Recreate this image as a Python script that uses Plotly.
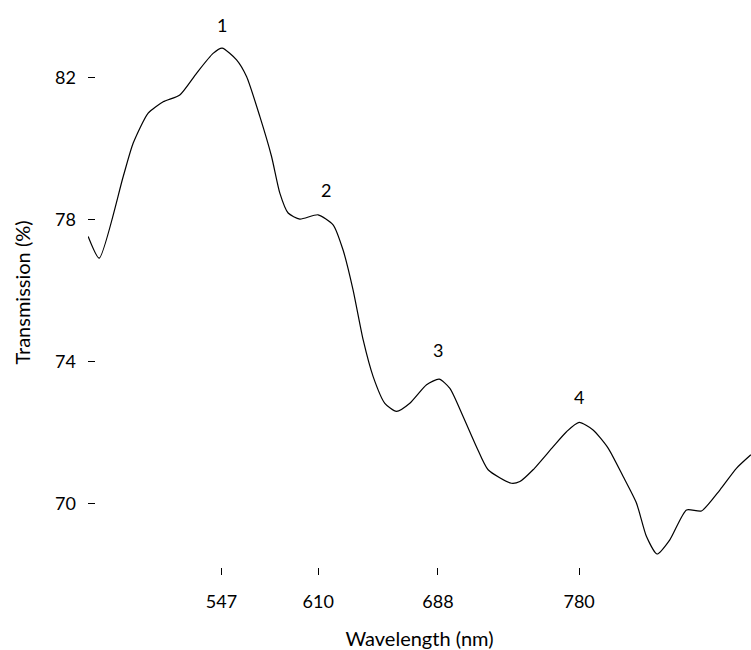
import plotly.graph_objects as go

# Data
wavelength = [460.1, 467.3, 482.9, 489.4, 499.2, 509.0, 519.8, 530.7, 541.5, 547.4,
              556.8, 563.3, 572.0, 579.6, 585.0, 590.4, 598.0, 609.9, 619.7, 626.2,
              632.7, 639.3, 645.8, 653.4, 661.0, 669.7, 680.6, 688.8, 695.8, 704.4,
              713.1, 720.7, 735.9, 741.4, 750.0, 763.1, 771.8, 780.0, 789.1, 798.9,
              808.7, 817.4, 823.9, 830.8, 839.1, 850.0, 859.7, 871.7, 882.5, 891.9]
transmission = [77.52, 76.91, 79.20, 80.14, 80.99, 81.31, 81.50, 82.11, 82.67, 82.82,
                82.49, 82.02, 80.89, 79.77, 78.74, 78.18, 78.01, 78.13, 77.85, 77.14,
                76.02, 74.61, 73.58, 72.83, 72.60, 72.83, 73.35, 73.51, 73.25, 72.46,
                71.61, 70.96, 70.58, 70.63, 70.96, 71.61, 72.03, 72.29, 72.08, 71.57,
                70.77, 70.02, 69.08, 68.59, 68.99, 69.83, 69.80, 70.39, 71.00, 71.38]

x_ticks = [547, 610, 688, 780]
y_ticks = [70, 74, 78, 82]

peak_labels = ["1", "2", "3", "4"]
peak_x = [547, 615, 688, 780]
peak_y = [83.47, 78.83, 74.33, 73.01]

FONT = "Lato"

fig = go.Figure()
fig.add_trace(go.Scatter(
    x=wavelength, y=transmission, mode="lines",
    line=dict(color="black", width=1.2, shape="spline", smoothing=0.6),
    showlegend=False, hoverinfo="skip",
))

for lab, px, py in zip(peak_labels, peak_x, peak_y):
    fig.add_annotation(x=px, y=py, text=lab, showarrow=False,
                       font=dict(family=FONT, size=18, color="black"))

fig.update_layout(
    width=751, height=650,
    margin=dict(l=88, r=0, t=10, b=75),
    paper_bgcolor="white", plot_bgcolor="white",
    font=dict(family=FONT, size=18, color="black"),
)
fig.update_xaxes(
    range=[460, 892], tickvals=x_ticks, ticktext=[str(v) for v in x_ticks],
    ticks="inside", ticklen=7, tickwidth=1, tickcolor="black",
    showline=False, showgrid=False, zeroline=False,
    ticklabelstandoff=14,
    title=dict(text="Wavelength (nm)", font=dict(family=FONT, size=20), standoff=20),
)
fig.update_yaxes(
    range=[68.0, 83.89], tickvals=y_ticks, ticktext=[str(v) for v in y_ticks],
    ticks="inside", ticklen=7, tickwidth=1, tickcolor="black",
    showline=False, showgrid=False, zeroline=False,
    ticklabelstandoff=11,
    title=dict(text="Transmission (%)", font=dict(family=FONT, size=20), standoff=19),
)

# remove the default page margin so the 751x650 figure fills the window exactly
fig.write_html("out.html",
               config={"displayModeBar": False},
               post_script="document.body.style.margin='0';document.body.style.overflow='hidden';")
